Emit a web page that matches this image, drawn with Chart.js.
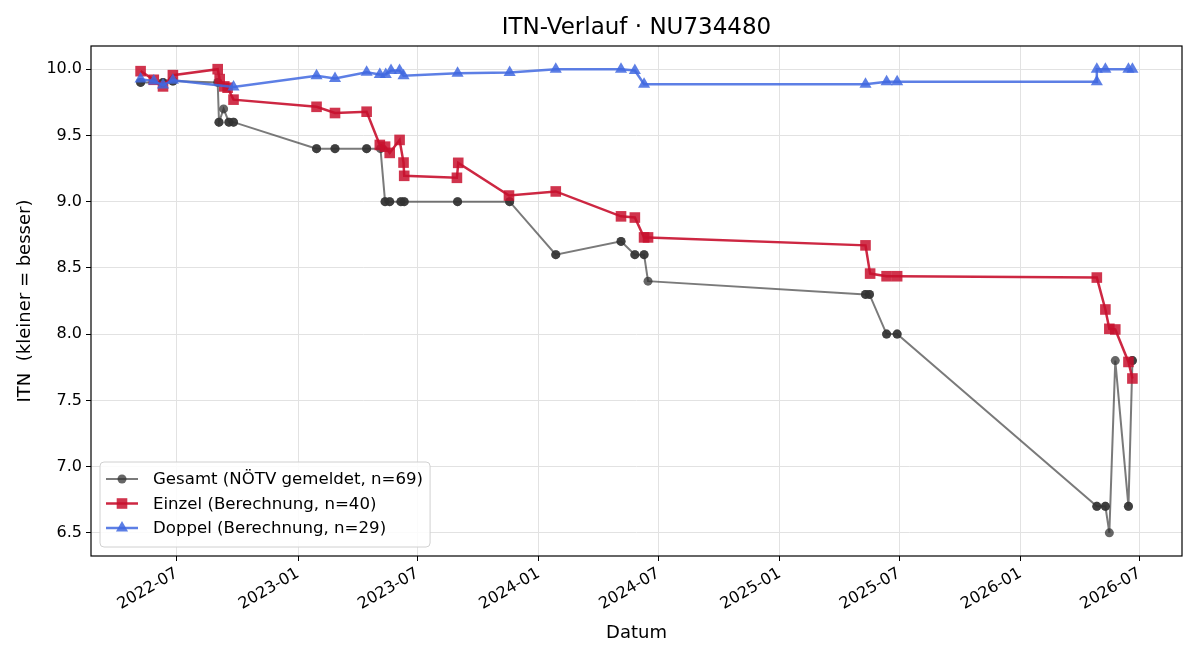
<!DOCTYPE html>
<html>
<head>
<meta charset="utf-8">
<title>ITN-Verlauf</title>
<script src="https://cdn.jsdelivr.net/npm/chart.js@4.4.1/dist/chart.umd.min.js"></script>
<style>
  html, body { margin: 0; padding: 0; background: #fff; }
  #wrap { width: 1200px; height: 660px; }
</style>
</head>
<body>
<div id="wrap"><canvas id="itnChart" width="1200" height="660"></canvas></div>
<script>
const FONT = "'DejaVu Sans', sans-serif";
const titleText = 'ITN-Verlauf · NU734480';

// Gesamt (gray) - darker markers in the picture are two matches on the same day
const gesamtDates = [
  '2022-05-07', '2022-05-07', '2022-06-10', '2022-06-10', '2022-06-25', '2022-06-25',
  '2022-09-01', '2022-09-03', '2022-09-03', '2022-09-10', '2022-09-18', '2022-09-18',
  '2022-09-25', '2022-09-25', '2023-01-29', '2023-01-29', '2023-02-26', '2023-02-26',
  '2023-04-15', '2023-04-15', '2023-05-06', '2023-05-13', '2023-05-13', '2023-05-20',
  '2023-05-20', '2023-06-06', '2023-06-06', '2023-06-11', '2023-06-11', '2023-08-31',
  '2023-08-31', '2023-11-18', '2023-11-18', '2024-01-27', '2024-01-27', '2024-05-05',
  '2024-05-05', '2024-05-26', '2024-05-26', '2024-06-09', '2024-06-09', '2024-06-15',
  '2025-05-11', '2025-05-11', '2025-05-17', '2025-05-17', '2025-06-12', '2025-06-12',
  '2025-06-28', '2025-06-28', '2026-04-27', '2026-04-27', '2026-05-10', '2026-05-10',
  '2026-05-16', '2026-05-25', '2026-06-14', '2026-06-14', '2026-06-20', '2026-06-20'
];
const gesamtValues = [
  9.90, 9.90, 9.90, 9.90, 9.91, 9.91,
  9.90, 9.60, 9.60, 9.70, 9.60, 9.60,
  9.60, 9.60, 9.40, 9.40, 9.40, 9.40,
  9.40, 9.40, 9.40, 9.00, 9.00, 9.00,
  9.00, 9.00, 9.00, 9.00, 9.00, 9.00,
  9.00, 9.00, 9.00, 8.60, 8.60, 8.70,
  8.70, 8.60, 8.60, 8.60, 8.60, 8.40,
  8.30, 8.30, 8.30, 8.30, 8.00, 8.00,
  8.00, 8.00, 6.70, 6.70, 6.70, 6.70,
  6.50, 7.80, 6.70, 6.70, 7.80, 7.80
];

// Einzel (red)
const einzelDates = [
  '2022-05-07', '2022-05-27', '2022-06-10', '2022-06-25', '2022-09-01', '2022-09-04',
  '2022-09-11', '2022-09-16', '2022-09-25', '2023-01-29', '2023-02-26', '2023-04-15',
  '2023-05-05', '2023-05-13', '2023-05-20', '2023-06-04', '2023-06-10', '2023-06-11',
  '2023-08-30', '2023-09-01', '2023-11-17', '2024-01-27', '2024-05-05', '2024-05-26',
  '2024-06-09', '2024-06-15', '2025-05-11', '2025-05-18', '2025-06-12', '2025-06-28',
  '2026-04-27', '2026-05-10', '2026-05-16', '2026-05-25', '2026-06-14', '2026-06-20'
];
const einzelValues = [
  9.985, 9.92, 9.87, 9.955, 10.0, 9.925,
  9.87, 9.86, 9.77, 9.716, 9.669, 9.679,
  9.428, 9.415, 9.368, 9.466, 9.295, 9.195,
  9.18, 9.293, 9.046, 9.077, 8.889, 8.88,
  8.73, 8.73, 8.67, 8.457, 8.437, 8.437,
  8.427, 8.186, 8.04, 8.035, 7.79, 7.665
];

// Doppel (blue)
const doppelDates = [
  '2022-05-07', '2022-05-27', '2022-06-10', '2022-06-25', '2022-09-25', '2023-01-29',
  '2023-02-26', '2023-04-15', '2023-05-05', '2023-05-14', '2023-05-22', '2023-06-04',
  '2023-06-10', '2023-08-31', '2023-11-18', '2024-01-27', '2024-05-05', '2024-05-26',
  '2024-06-09', '2025-05-11', '2025-06-12', '2025-06-28', '2026-04-27', '2026-04-27',
  '2026-05-10', '2026-06-14', '2026-06-20'
];
const doppelValues = [
  9.925, 9.91, 9.88, 9.917, 9.865, 9.95,
  9.93, 9.977, 9.96, 9.96, 9.99, 9.99,
  9.95, 9.97, 9.975, 10.0, 10.0, 9.99,
  9.887, 9.887, 9.905, 9.905, 9.905, 10.0,
  10.0, 10.0, 10.0
];

const seriesLabels = [
  'Gesamt (NÖTV gemeldet, n=69)',
  'Einzel (Berechnung, n=40)',
  'Doppel (Berechnung, n=29)'
];
const xTickDates = ['2022-07-01', '2023-01-01', '2023-07-01', '2024-01-01', '2024-07-01',
  '2025-01-01', '2025-07-01', '2026-01-01', '2026-07-01'];
const yTickValues = [6.5, 7.0, 7.5, 8.0, 8.5, 9.0, 9.5, 10.0];

const toPoints = (dates, vals) => dates.map((d, i) => ({ x: Date.parse(d), y: vals[i] }));

// matplotlib-like 5% margins
const allX = [...gesamtDates, ...einzelDates, ...doppelDates].map(d => Date.parse(d));
const allY = [...gesamtValues, ...einzelValues, ...doppelValues];
const xMinD = Math.min(...allX), xMaxD = Math.max(...allX);
const yMinD = Math.min(...allY), yMaxD = Math.max(...allY);
const xPad = (xMaxD - xMinD) * 0.05, yPad = (yMaxD - yMinD) * 0.05;

function drawMarker(ctx, style, x, y, r) {
    ctx.beginPath();
    if (style === 'circle') {
        ctx.arc(x, y, r, 0, Math.PI * 2);
    } else if (style === 'rect') {
        const s = r * Math.SQRT1_2;
        ctx.rect(x - s, y - s, 2 * s, 2 * s);
    } else {
        ctx.moveTo(x, y - r);
        ctx.lineTo(x + r * 0.866, y + r / 2);
        ctx.lineTo(x - r * 0.866, y + r / 2);
        ctx.closePath();
    }
    ctx.fill();
}

// frame, title and the legend inside the plot (lower left)
const decorPlugin = {
    id: 'decor',
    afterDraw(chart) {
        const { ctx, chartArea: a } = chart;
        ctx.save();
        ctx.strokeStyle = '#000';
        ctx.lineWidth = 1.2;
        ctx.strokeRect(a.left, a.top, a.right - a.left, a.bottom - a.top);

        ctx.fillStyle = '#000';
        ctx.font = `23px ${FONT}`;
        ctx.textAlign = 'center';
        ctx.textBaseline = 'middle';
        ctx.fillText(titleText, (a.left + a.right) / 2, 28);

        // legend
        ctx.font = `16.6px ${FONT}`;
        const textW = Math.max(...seriesLabels.map(t => ctx.measureText(t).width));
        const boxX = a.left + 9, boxW = textW + 60, boxH = 85;
        const boxY = a.bottom - 9 - boxH;
        ctx.fillStyle = 'rgba(255,255,255,0.85)';
        ctx.strokeStyle = '#d0d0d0';
        ctx.lineWidth = 1;
        ctx.beginPath();
        ctx.roundRect(boxX, boxY, boxW, boxH, 4);
        ctx.fill();
        ctx.stroke();

        chart.data.datasets.forEach((ds, i) => {
            const cy = boxY + 17 + i * 24.5;
            ctx.strokeStyle = ds.borderColor;
            ctx.lineWidth = ds.borderWidth;
            ctx.beginPath();
            ctx.moveTo(boxX + 6, cy);
            ctx.lineTo(boxX + 38, cy);
            ctx.stroke();
            ctx.fillStyle = ds.pointBackgroundColor;
            drawMarker(ctx, ds.pointStyle, boxX + 22, cy, ds.pointRadius);
            ctx.fillStyle = '#000';
            ctx.textAlign = 'left';
            ctx.fillText(ds.label, boxX + 53, cy + 1);
        });
        ctx.restore();
    }
};

const ctx = document.getElementById('itnChart').getContext('2d');
new Chart(ctx, {
    type: 'line',
    data: {
        datasets: [
            {
                label: seriesLabels[0],
                data: toPoints(gesamtDates, gesamtValues),
                borderColor: 'rgba(51, 51, 51, 0.65)',
                borderWidth: 2,
                pointStyle: 'circle',
                pointRadius: 4.5,
                pointBackgroundColor: 'rgba(51, 51, 51, 0.75)',
                pointBorderWidth: 0,
                order: 3
            },
            {
                label: seriesLabels[1],
                data: toPoints(einzelDates, einzelValues),
                borderColor: 'rgba(200, 16, 46, 0.9)',
                borderWidth: 2.5,
                pointStyle: 'rect',
                pointRadius: 7.5,
                pointBackgroundColor: 'rgba(200, 16, 46, 0.85)',
                pointBorderWidth: 0,
                order: 2
            },
            {
                label: seriesLabels[2],
                data: toPoints(doppelDates, doppelValues),
                borderColor: 'rgba(65, 105, 225, 0.85)',
                borderWidth: 2.5,
                pointStyle: 'triangle',
                pointRadius: 7,
                pointBackgroundColor: 'rgba(65, 105, 225, 0.85)',
                pointBorderWidth: 0,
                order: 1
            }
        ]
    },
    options: {
        responsive: false,
        animation: false,
        devicePixelRatio: 1,
        layout: {
            padding: { top: 46, right: 18, bottom: 0, left: 0 }
        },
        plugins: {
            legend: { display: false },
            title: { display: false },
            tooltip: { enabled: false }
        },
        scales: {
            x: {
                type: 'linear',
                min: xMinD - xPad,
                max: xMaxD + xPad,
                afterBuildTicks: (scale) => {
                    scale.ticks = xTickDates.map(d => ({ value: Date.parse(d) }));
                },
                afterFit: (scale) => { scale.height = 104; },
                grid: {
                    color: '#e2e2e2',
                    tickColor: '#000',
                    tickLength: 5
                },
                border: { display: false },
                ticks: {
                    autoSkip: false,
                    minRotation: 30,
                    maxRotation: 30,
                    padding: 3,
                    color: '#000',
                    font: { family: FONT, size: 16 },
                    callback: (v) => new Date(v).toISOString().slice(0, 7)
                },
                title: {
                    display: true,
                    text: 'Datum',
                    color: '#000',
                    font: { family: FONT, size: 18 },
                    padding: { top: 0, bottom: 16 }
                }
            },
            y: {
                min: yMinD - yPad,
                max: yMaxD + yPad,
                afterBuildTicks: (scale) => {
                    scale.ticks = yTickValues.map(v => ({ value: v }));
                },
                afterFit: (scale) => { scale.width = 91; },
                grid: {
                    color: '#e2e2e2',
                    tickColor: '#000',
                    tickLength: 5
                },
                border: { display: false },
                ticks: {
                    padding: 4,
                    color: '#000',
                    font: { family: FONT, size: 16 },
                    callback: (v) => Number(v).toFixed(1)
                },
                title: {
                    display: true,
                    text: 'ITN  (kleiner = besser)',
                    color: '#000',
                    font: { family: FONT, size: 18 },
                    padding: { top: 15, bottom: 0 }
                }
            }
        }
    },
    plugins: [decorPlugin]
});
</script>
</body>
</html>
